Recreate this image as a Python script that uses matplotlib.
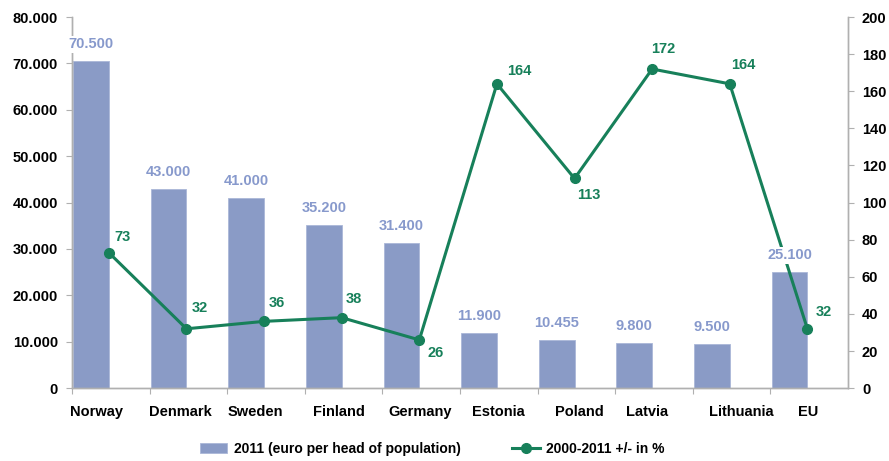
import matplotlib
matplotlib.use("Agg")
import matplotlib.pyplot as plt
from matplotlib.ticker import FuncFormatter, MultipleLocator
import numpy as np

categories = ["Norway", "Denmark", "Sweden", "Finland", "Germany",
              "Estonia", "Poland", "Latvia", "Lithuania", "EU"]
values_2011 = [70500, 43000, 41000, 35200, 31400, 11900, 10455, 9800, 9500, 25100]
bar_labels = ["70.500", "43.000", "41.000", "35.200", "31.400",
              "11.900", "10.455", "9.800", "9.500", "25.100"]
change_pct = [73, 32, 36, 38, 26, 164, 113, 172, 164, 32]

plt.rcParams['font.family'] = ['Liberation Sans', 'DejaVu Sans']
plt.rcParams['font.weight'] = 'bold'

BAR = "#8a9bc6"
BAR_TXT = "#8799cc"
GREEN = "#17805a"
GRAY = "#b0b0b0"

fig = plt.figure(figsize=(8.89, 4.61), dpi=100)
ax = fig.add_axes([0.081, 0.158, 0.873, 0.805])
ax2 = ax.twinx()

x = np.arange(len(categories))
bw = 0.46
ax.bar(x + 0.015, values_2011, width=bw, align='edge', color=BAR,
       edgecolor="#aab7d8", linewidth=0.6, zorder=2,
       label="2011 (euro per head of population)")

px = x + 0.015 + bw
ax2.plot(px, change_pct, color=GREEN, lw=2.2, marker='o', ms=7, zorder=3,
         label="2000-2011 +/- in %")

# bar value labels drawn above the line (white backing)
for xi, v, lab in zip(x, values_2011, bar_labels):
    ax2.annotate(lab, (xi + 0.015 + bw / 2, v), xycoords=ax.transData,
                 xytext=(0, 12), textcoords='offset points',
                 ha='center', va='center', color=BAR_TXT, fontsize=10.5,
                 fontweight='bold', zorder=5,
                 bbox=dict(boxstyle='square,pad=0.1', fc='white', ec='none'))

offsets = [(4.3, 11.5), (3.6, 15), (3.6, 13), (2.9, 13.7), (5.8, -9.4),
           (7.2, 9.4), (2.2, -12.2), (-0.7, 14.4), (0.7, 13.7), (5.8, 12.2)]
for xi, v, (dx, dy) in zip(px, change_pct, offsets):
    ax2.annotate(str(v), (xi, v), xytext=(dx, dy), textcoords='offset points',
                 ha='left', va='center', color=GREEN,
                 fontsize=10.5, fontweight='bold', zorder=6)

ax.set_xlim(0, len(categories))
ax.set_ylim(0, 80000)
ax2.set_ylim(0, 200)
ax.yaxis.set_major_locator(MultipleLocator(10000))
ax2.yaxis.set_major_locator(MultipleLocator(20))
ax.yaxis.set_major_formatter(FuncFormatter(lambda v, p: f"{int(v):,}".replace(",", ".")))

label_pos = [0.32, 0.40, 0.36, 0.44, 0.49, 0.49, 0.54, 0.41, 0.62, 0.49]
ax.set_xticks(x, minor=False)
ax.set_xticklabels([])
ax.set_xticks(x + np.array(label_pos), minor=True)
ax.set_xticklabels(categories, minor=True)
ax.tick_params(axis='x', which='minor', length=0, pad=12, labelsize=10.5)
ax.tick_params(axis='x', which='major', length=4, color=GRAY, direction='out')
ax.tick_params(axis='y', length=4, color=GRAY, labelsize=10.5, pad=6)
ax2.tick_params(axis='y', length=4, color=GRAY, labelsize=10.5, pad=6)

for a in (ax, ax2):
    a.spines['top'].set_visible(False)
    for s in ('left', 'right', 'bottom'):
        a.spines[s].set_color(GRAY)
        a.spines[s].set_linewidth(1.0)
ax.set_zorder(ax2.get_zorder() - 1)
ax.patch.set_visible(False)

h1, l1 = ax.get_legend_handles_labels()
h2, l2 = ax2.get_legend_handles_labels()
fig.legend(h1 + h2, l1 + l2, loc='center', bbox_to_anchor=(0.486, 0.027), ncol=2,
           frameon=False, fontsize=10, handlelength=2.0, columnspacing=3.7,
           handletextpad=0.45)

fig.savefig("out.png", dpi=100)
